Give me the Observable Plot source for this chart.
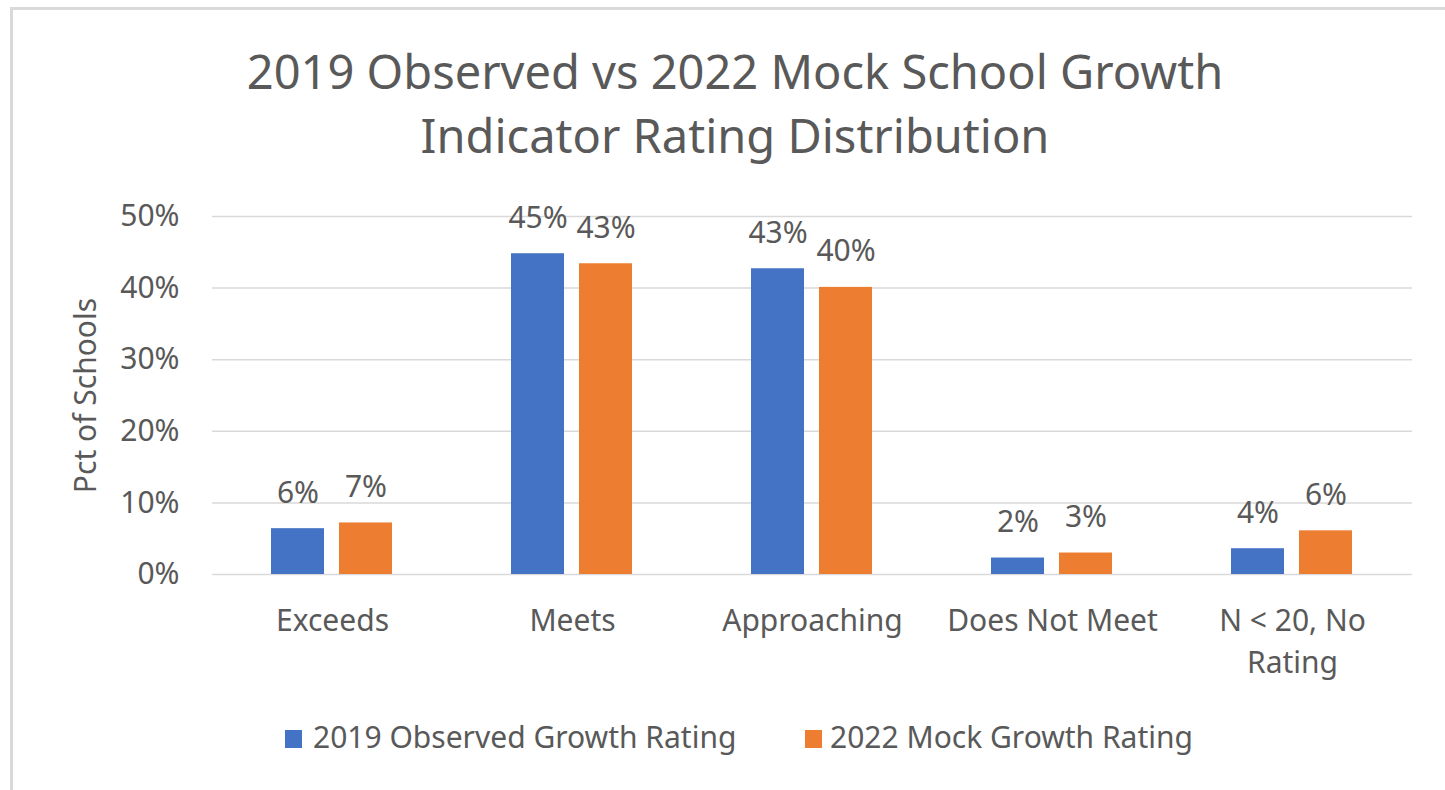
<!DOCTYPE html>
<html>
<head>
<meta charset="utf-8">
<script src="https://cdn.jsdelivr.net/npm/d3@7"></script>
<script src="https://cdn.jsdelivr.net/npm/@observablehq/plot@0.6"></script>
<style>
  html, body { margin: 0; padding: 0; background: #ffffff; }
  #wrap { position: relative; width: 1445px; height: 790px; overflow: hidden; background: #ffffff;
          font-family: "Noto Sans", sans-serif; color: #595959; }
  #frame { position: absolute; left: 10px; top: 7px; width: 1600px; height: 1000px;
           border-left: 3px solid #d9d9d9; border-top: 3px solid #d9d9d9; box-sizing: border-box; }
  #title { position: absolute; left: 35px; width: 1400px; top: 39px; text-align: center;
           font-size: 47px; line-height: 64px; color: #595959; }
  #chart { position: absolute; left: 0; top: 170px; }
  .leg { position: absolute; top: 722px; font-size: 30px; line-height: 30px; white-space: nowrap; color: #595959; }
  .sw { position: absolute; top: 730px; width: 17px; height: 18px; }
</style>
</head>
<body>
<div id="wrap">
  <div id="frame"></div>
  <div id="title">2019 Observed vs 2022 Mock School Growth<br>Indicator Rating Distribution</div>
  <div id="chart"></div>
  <div id="legend"></div>
</div>
<script>
// ---- data ----
const categories = ["Exceeds", "Meets", "Approaching", "Does Not Meet", "N < 20, No Rating"];
const categoryLabels = ["Exceeds", "Meets", "Approaching", "Does Not Meet", "N < 20, No\nRating"];
const seriesNames = ["2019 Observed Growth Rating", "2022 Mock Growth Rating"];
const observed2019 = [0.064, 0.448, 0.427, 0.023, 0.036];
const mock2022 = [0.072, 0.434, 0.401, 0.030, 0.061];
const yTicks = [0, 0.1, 0.2, 0.3, 0.4, 0.5];
const seriesColors = ["#4472c4", "#ed7d31"];

const fmt = d3.format(".0%");
const labelOf = new Map(categories.map((c, i) => [c, categoryLabels[i]]));

const data = categories.flatMap((c, i) => [
  {category: c, series: seriesNames[0], value: observed2019[i]},
  {category: c, series: seriesNames[1], value: mock2022[i]}
]);

const chart = Plot.plot({
  width: 1445,
  height: 530,
  marginTop: 46,
  marginBottom: 126,
  marginLeft: 210,
  marginRight: 31,
  style: {fontFamily: "'Noto Sans', sans-serif", fontSize: "30px", color: "#595959", background: "transparent"},
  fx: {domain: categories, padding: 0, label: null, axis: null},
  x: {domain: seriesNames, paddingInner: 0.217, paddingOuter: 0.871, axis: null},
  y: {domain: [0, 0.5], label: null, axis: null},
  color: {domain: seriesNames, range: seriesColors},
  marks: [
    Plot.ruleY(yTicks, {stroke: "#d9d9d9", strokeWidth: 1.5}),
    Plot.barY(data, {fx: "category", x: "series", y: "value", fill: "series"}),
    Plot.text(data, {fx: "category", x: "series", y: "value", text: d => fmt(d.value),
      lineAnchor: "bottom", dy: -26, fill: "#595959", fontSize: 30}),
    Plot.axisY({ticks: yTicks, tickFormat: fmt, tickSize: 0, tickPadding: 33, fontSize: 30,
      label: "Pct of Schools", labelAnchor: "center", labelOffset: 138, labelArrow: "none"}),
    Plot.axisFx({anchor: "bottom", tickSize: 0, tickPadding: 27, fontSize: 30, lineHeight: 1.4,
      tickFormat: c => labelOf.get(c), label: null})
  ]
});
document.getElementById("chart").appendChild(chart);

// legend
const legend = document.getElementById("legend");
const legendPos = [{sw: 285, tx: 313}, {sw: 805, tx: 830}];
seriesNames.forEach((s, i) => {
  const sw = document.createElement("div");
  sw.className = "sw";
  sw.style.left = legendPos[i].sw + "px";
  sw.style.background = seriesColors[i];
  legend.appendChild(sw);
  const t = document.createElement("div");
  t.className = "leg";
  t.style.left = legendPos[i].tx + "px";
  t.textContent = s;
  legend.appendChild(t);
});
</script>
</body>
</html>
